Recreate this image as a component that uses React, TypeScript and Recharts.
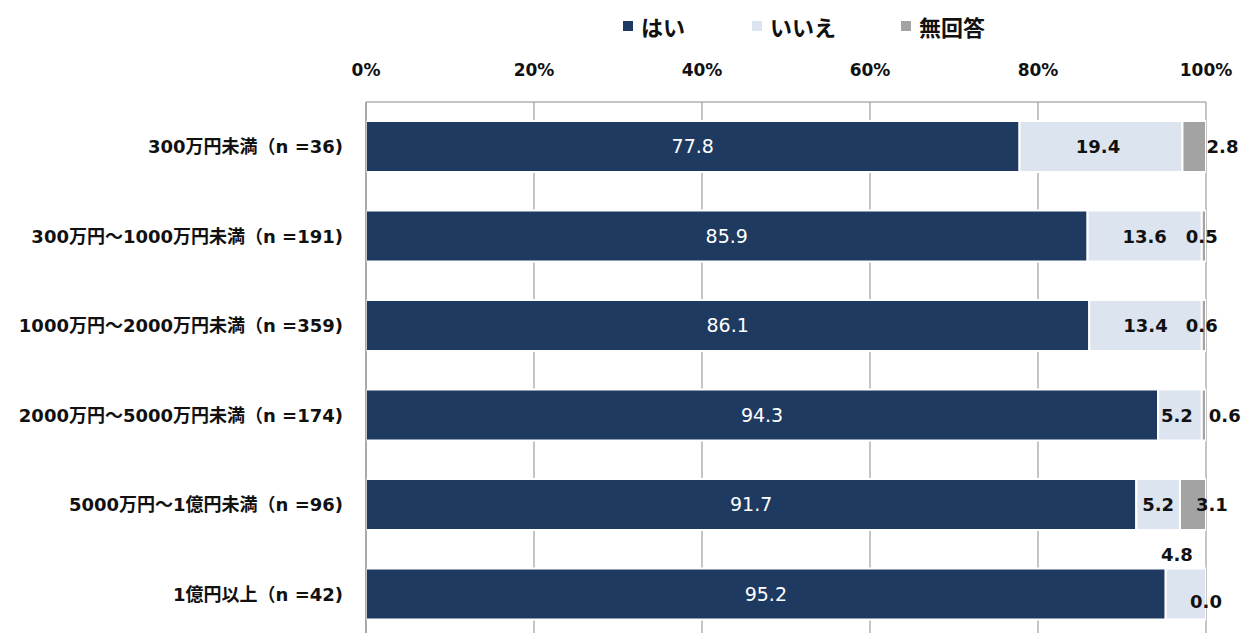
import { BarChart, Bar, XAxis, YAxis, CartesianGrid, LabelList } from 'recharts'

const categories = [
  '300万円未満（n =36)',
  '300万円～1000万円未満（n =191)',
  '1000万円～2000万円未満（n =359)',
  '2000万円～5000万円未満（n =174)',
  '5000万円～1億円未満（n =96)',
  '1億円以上（n =42)',
]
const yesValues = [77.8, 85.9, 86.1, 94.3, 91.7, 95.2]
const noValues = [19.4, 13.6, 13.4, 5.2, 5.2, 4.8]
const naValues = [2.8, 0.5, 0.6, 0.6, 3.1, 0.0]
const xTicks = [0, 20, 40, 60, 80, 100]

// label nudges (dx, dy) so small values don't overlap, like the original
// noLabelShift: from centre of the いいえ segment
// naLabelShift: from right end of the いいえ segment (0.0 has no bar of its own)
const noLabelShift = [[-3, 0], [0, 0], [0, 0], [-3, 0], [0, 0], [-9, -40]]
const naLabelShift = [[40, 0], [0, 0], [0, 0], [23, 0], [32, 0], [0, 7]]

const NAVY = '#1f3a60'
const LIGHT = '#dce4f0'
const GRAY = '#a3a3a3'
const CJK = '"Noto Sans CJK JP", sans-serif'
const MIXED = '"DejaVu Sans", "Noto Sans CJK JP", sans-serif'

const data = categories.map((name, i) => ({
  name,
  yes: yesValues[i],
  no: noValues[i],
  na: naValues[i],
}))

const NoLabel = (props: any) => {
  const { x, y, width, height, value, index } = props
  const [dx, dy] = noLabelShift[index] || [0, 0]
  return (
    <text x={x + width / 2 + dx} y={y + height / 2 + dy} textAnchor="middle" dominantBaseline="central"
      fontFamily={MIXED} fontWeight={700} fontSize={18} fill="#111">
      {Number(value).toFixed(1)}
    </text>
  )
}

const NaLabel = (props: any) => {
  const { x, y, width, height, index } = props
  const [dx, dy] = naLabelShift[index] || [0, 0]
  return (
    <text x={x + width + dx} y={y + height / 2 + dy} textAnchor="middle" dominantBaseline="central"
      fontFamily={MIXED} fontWeight={700} fontSize={18} fill="#111">
      {naValues[index].toFixed(1)}
    </text>
  )
}

const legendItems = [
  { label: 'はい', color: NAVY, left: 623 },
  { label: 'いいえ', color: LIGHT, left: 752 },
  { label: '無回答', color: GRAY, left: 901 },
]

export default function App() {
  return (
    <div style={{ position: 'absolute', left: 0, top: 0, width: 1245, height: 633, overflow: 'hidden', background: '#fff' }}>
      {legendItems.map((it) => (
        <div key={it.label} style={{ position: 'absolute', top: 11, left: it.left, display: 'flex', alignItems: 'center', fontFamily: CJK, fontWeight: 700, fontSize: 22, lineHeight: '30px', color: '#111' }}>
          <span style={{ width: 10, height: 10, background: it.color, marginRight: 8, display: 'inline-block' }} />
          {it.label}
        </div>
      ))}
      <BarChart
        width={1245}
        height={650}
        data={data}
        layout="vertical"
        margin={{ top: 50, right: 39, bottom: 11, left: 0 }}
      >
        <CartesianGrid horizontal={false} stroke="#8c8c8c" />
        <XAxis
          type="number"
          orientation="top"
          domain={[0, 100]}
          allowDataOverflow
          ticks={xTicks}
          tickFormatter={(v) => `${v}%`}
          height={52}
          tickLine={false}
          tickSize={0}
          tickMargin={26}
          axisLine={{ stroke: '#8c8c8c' }}
          tick={{ fontFamily: MIXED, fontWeight: 700, fontSize: 17, fill: '#111' }}
        />
        <YAxis
          type="category"
          dataKey="name"
          width={366}
          tickLine={false}
          tickSize={0}
          tickMargin={23}
          axisLine={{ stroke: '#8c8c8c' }}
          tick={{ fontFamily: MIXED, fontWeight: 700, fontSize: 18, fill: '#111' }}
        />
        <Bar dataKey="yes" stackId="a" fill={NAVY} stroke="#fff" strokeWidth={2} barSize={51} isAnimationActive={false}>
          <LabelList dataKey="yes" position="center" fill="#fff" fontSize={19} fontFamily={MIXED}
            formatter={(v: any) => Number(v).toFixed(1)} />
        </Bar>
        <Bar dataKey="no" stackId="a" fill={LIGHT} stroke="#fff" strokeWidth={2} barSize={51} isAnimationActive={false}>
          <LabelList dataKey="no" content={NoLabel} />
          <LabelList dataKey="na" content={NaLabel} />
        </Bar>
        <Bar dataKey="na" stackId="a" fill={GRAY} stroke="#fff" strokeWidth={2} barSize={51} isAnimationActive={false} />
      </BarChart>
    </div>
  )
}
